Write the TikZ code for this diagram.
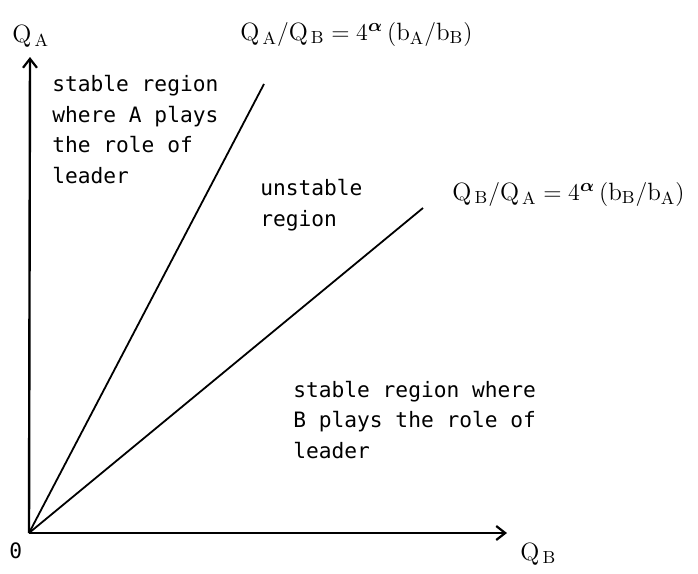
\documentclass[tikz,border=0pt]{standalone}
\usepackage{amsmath}
\usepackage{fontspec}
\usepackage{tikz}
\usetikzlibrary{arrows.meta,positioning}
\newfontfamily\regionfont{DejaVu Sans Mono}
\newcommand{\rQ}[1]{\mathrm{Q}_{\,\mathrm{#1}}}
\newcommand{\rb}[1]{\mathrm{b}_{\mathrm{#1}}}

\begin{document}
\begin{tikzpicture}[
  x=0.5pt, y=-0.5pt,
  axis/.style={-{Straight Barb[length=4.5pt,width=7pt,line width=1.1pt]}, line width=1.2pt},
  bound/.style={line width=0.9pt},
  region/.style={font=\regionfont\fontsize{10.6}{15.25}\selectfont, align=left, anchor=base west, inner sep=0pt},
  qlab/.style={font=\fontsize{12.5}{14}\selectfont, anchor=base west, inner sep=0pt}
]
\useasboundingbox (0,0) rectangle (698,574);

\coordinate (O) at (29,533);
\coordinate (ytip) at (30,57);
\coordinate (xtip) at (507,533);
\coordinate (lineA) at (264,84);
\coordinate (lineB) at (423,208);

\draw[axis] (O) -- (ytip);
\draw[axis] (O) -- (xtip);
\draw[bound] (O) -- (lineA);
\draw[bound] (O) -- (lineB);

\node[region] (zero) at (9,558) {0};
\node[qlab] (qa) at (12,42) {$\rQ{A}$};
\node[qlab] (qb) at (520,560) {$\rQ{B}$};

\node[qlab] (eqA) at (240,40) {$\rQ{A}/\rQ{B}= 4^{\boldsymbol{\alpha}}\,(\rb{A}/\rb{B})$};
\node[qlab] (eqB) at (452,200) {$\rQ{B}/\rQ{A}= 4^{\boldsymbol{\alpha}}\,(\rb{B}/\rb{A})$};

% base anchor of a multi-line node sits on its last line
\node[region] (stableA) at (52,183) {stable region\\where A plays\\the role of\\leader};
\node[region] (unstable) at (260,226) {unstable\\region};
\node[region] (stableB) at (293,458) {stable region where\\B plays the role of\\leader};
\end{tikzpicture}
\end{document}
